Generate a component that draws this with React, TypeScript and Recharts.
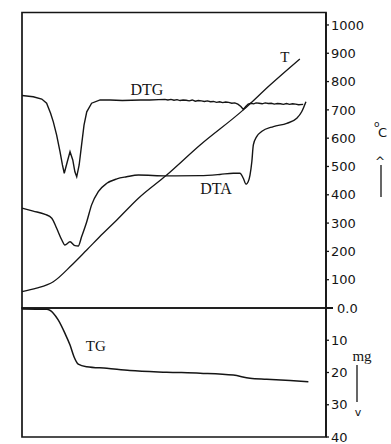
import React from 'react';
import {
  ComposedChart,
  Line,
  XAxis,
  YAxis,
  ReferenceArea,
  ReferenceDot,
} from 'recharts';

// time axis (arbitrary units, 0..100 across the frame)
const X_DOMAIN = [0, 100];

// DTG trace (relative signal, 0 = divider, 100 = top frame)
const dtgT = [0, 3.7, 6.5, 8.1, 9.4, 10.3, 11.4, 12.5, 13.3, 13.9, 14.9, 15.8, 16.7, 17.4, 18.0, 18.8, 19.6, 20.4, 21.3, 22.9, 25.7, 29, 33, 36, 39, 42, 45, 47, 48, 49, 50, 51, 52, 53, 54, 55, 56, 57, 58, 59, 60, 61, 62, 63, 64, 65, 66, 67, 68, 69, 70, 71, 72, 72.8, 73.6, 74.4, 75.3, 76.2, 77, 78, 79, 80, 81, 82, 83, 84, 85, 86, 87, 88, 89, 90, 91, 92.5];
const dtgV = [71.9, 71.5, 70.7, 69.3, 65.9, 63.0, 58.5, 52.9, 48.4, 45.6, 49.5, 52.9, 50.1, 46.1, 44.4, 48.4, 55.2, 61.9, 66.4, 69.3, 70.4, 70.4, 70.2, 70.3, 70.4, 70.4, 70.5, 70.6, 70.4, 70.6, 70.3, 70.5, 70.2, 70.4, 70.3, 70.1, 70.4, 70.0, 70.2, 70.1, 69.9, 70.1, 69.8, 69.9, 69.6, 69.8, 69.5, 69.7, 69.6, 69.3, 69.4, 69.0, 68.2, 67.2, 68.2, 69.0, 69.3, 69.1, 69.4, 69.3, 69.1, 69.4, 69.2, 69.3, 69.0, 69.2, 69.1, 68.9, 69.2, 68.9, 69.1, 69.0, 68.8, 68.9];

// DTA trace
const dtaT = [0, 3.7, 7.6, 9.8, 11.4, 13.1, 14.1, 15.8, 17.4, 18.5, 19.6, 21.3, 22.9, 25.1, 27.9, 31.2, 34.4, 38.3, 47.6, 58.6, 65.1, 69.5, 71.7, 72.8, 73.7, 74.4, 75.0, 75.6, 76.1, 77.2, 78.8, 82.7, 87.1, 90.4, 92.0, 93.4];
const dtaV = [33.8, 32.8, 31.7, 30.4, 27.0, 23.0, 21.3, 22.4, 21.1, 21.0, 24.1, 29.2, 34.9, 39.4, 42.2, 43.7, 44.4, 45.0, 44.7, 44.8, 45.2, 45.6, 45.6, 43.9, 41.9, 42.7, 45.0, 49.5, 55.2, 58.0, 59.7, 61.4, 62.5, 64.2, 66.4, 69.8];

// temperature T, degC
const tempT = [0, 4.8, 10.3, 16.4, 21.3, 26.7, 31.2, 38.3, 47.6, 58.6, 72.8, 81.6, 91.4];
const tempC = [58, 70, 93, 152, 205, 264, 311, 388, 470, 576, 700, 788, 880];

// TG mass loss, mg
const tgT = [0, 8.1, 10.3, 11.9, 14.1, 15.8, 17.1, 18.5, 21.3, 27.9, 35.5, 47.6, 58.6, 69.5, 75.0, 80.5, 88.2, 94.2];
const tgMg = [0.3, 0.4, 1.6, 3.7, 7.8, 11.5, 15.1, 17.4, 18.2, 18.7, 19.4, 19.9, 20.2, 20.8, 21.8, 22.1, 22.5, 22.9];

const tempTicks = [0, 100, 200, 300, 400, 500, 600, 700, 800, 900, 1000];
const mgTicks = [10, 20, 30, 40];

const dtgData = dtgT.map((t, i) => ({ t, v: dtgV[i] }));
const dtaData = dtaT.map((t, i) => ({ t, v: dtaV[i] }));
const tempData = tempT.map((t, i) => ({ t, c: tempC[i] }));
const tgData = tgT.map((t, i) => ({ t, mg: tgMg[i] }));

const INK = '#151515';
const W = 391;
const H = 444;

const TempTick = (props: any) => {
  const { x, y, payload } = props;
  const zero = payload.value === 0;
  return (
    <g>
      {zero && <line x1={x - 5} y1={y} x2={x + 2} y2={y} stroke={INK} strokeWidth={2} />}
      <text
        x={zero ? x + 6 : x}
        y={y}
        dy="0.36em"
        textAnchor="start"
        fontFamily="DejaVu Sans, sans-serif"
        fontSize={13}
        fill={INK}
      >
        {zero ? '0.0' : payload.value}
      </text>
    </g>
  );
};

const MgTick = (props: any) => {
  const { x, y, payload } = props;
  return (
    <text x={x} y={y} dy="0.36em" textAnchor="start" fontFamily="DejaVu Sans, sans-serif" fontSize={13} fill={INK}>
      {payload.value}
    </text>
  );
};

const serifLabel = (value: string, size: number) => ({
  value,
  position: 'center' as const,
  fontFamily: 'Liberation Serif, serif',
  fontSize: size,
  fill: INK,
});

export default function App() {
  const layer: React.CSSProperties = { position: 'absolute', left: 0, top: 0 };
  return (
    <div style={{ position: 'absolute', left: 0, top: 0, width: W, height: H, background: '#fff' }}>
      <div style={layer}>
        <ComposedChart width={W} height={H} margin={{ top: 12.5, right: 0, bottom: 136, left: 22 }}>
          <XAxis type="number" dataKey="t" domain={X_DOMAIN} hide />
          <YAxis yAxisId="sig" type="number" domain={[0, 100]} hide />
          <YAxis
            yAxisId="temp"
            orientation="right"
            type="number"
            domain={[0, 1044]}
            ticks={tempTicks}
            interval={0}
            width={65}
            tickSize={3}
            tickMargin={2}
            axisLine={{ stroke: INK, strokeWidth: 1.6 }}
            tickLine={{ stroke: INK, strokeWidth: 1.3 }}
            tick={<TempTick />}
          />
          <ReferenceArea
            yAxisId="temp"
            x1={0}
            x2={100}
            y1={0}
            y2={1044}
            fill="none"
            fillOpacity={0}
            stroke={INK}
            strokeWidth={1.7}
          />
          <Line yAxisId="sig" data={dtgData} dataKey="v" type="linear" stroke={INK} strokeWidth={1.4} dot={false} isAnimationActive={false} />
          <Line yAxisId="sig" data={dtaData} dataKey="v" type="monotone" stroke={INK} strokeWidth={1.4} dot={false} isAnimationActive={false} />
          <Line yAxisId="temp" data={tempData} dataKey="c" type="monotone" stroke={INK} strokeWidth={1.3} dot={false} isAnimationActive={false} />
          <ReferenceDot yAxisId="sig" x={41.1} y={74.1} r={0} fill="none" stroke="none" label={serifLabel('DTG', 16)} />
          <ReferenceDot yAxisId="sig" x={63.8} y={40.6} r={0} fill="none" stroke="none" label={serifLabel('DTA', 16)} />
          <ReferenceDot yAxisId="sig" x={86.5} y={84.9} r={0} fill="none" stroke="none" label={serifLabel('T', 15)} />
        </ComposedChart>
      </div>
      <div style={layer}>
        <ComposedChart width={W} height={H} margin={{ top: 308, right: 0, bottom: 7, left: 22 }}>
          <XAxis type="number" dataKey="t" domain={X_DOMAIN} hide />
          <YAxis
            yAxisId="mg"
            orientation="right"
            type="number"
            reversed
            domain={[0, 40]}
            ticks={mgTicks}
            interval={0}
            width={65}
            tickSize={3}
            tickMargin={2}
            axisLine={{ stroke: INK, strokeWidth: 1.6 }}
            tickLine={{ stroke: INK, strokeWidth: 1.3 }}
            tick={<MgTick />}
          />
          <ReferenceArea
            yAxisId="mg"
            x1={0}
            x2={100}
            y1={0}
            y2={40}
            fill="none"
            fillOpacity={0}
            stroke={INK}
            strokeWidth={1.7}
          />
          <Line yAxisId="mg" data={tgData} dataKey="mg" type="monotone" stroke={INK} strokeWidth={1.5} dot={false} isAnimationActive={false} />
          <ReferenceDot yAxisId="mg" x={24.3} y={11.8} r={0} fill="none" stroke="none" label={serifLabel('TG', 15)} />
        </ComposedChart>
      </div>
      <svg width={W} height={H} style={{ ...layer, pointerEvents: 'none' }}>
        <g fill={INK} stroke="none">
          <text x={374} y={127} fontFamily="DejaVu Sans, sans-serif" fontSize={9}>o</text>
          <text x={378} y={137} fontFamily="DejaVu Sans, sans-serif" fontSize={13}>C</text>
          <text x={380} y={166} textAnchor="middle" fontFamily="DejaVu Sans, sans-serif" fontSize={12}>^</text>
          <text x={362} y={361} textAnchor="middle" fontFamily="Liberation Serif, serif" fontSize={15}>mg</text>
          <text x={358} y={416} textAnchor="middle" fontFamily="DejaVu Sans, sans-serif" fontSize={11}>v</text>
        </g>
        <line x1={381} y1={165} x2={381} y2={197} stroke={INK} strokeWidth={1.3} />
        <line x1={357} y1={365} x2={357} y2={402} stroke={INK} strokeWidth={1.3} />
      </svg>
    </div>
  );
}
